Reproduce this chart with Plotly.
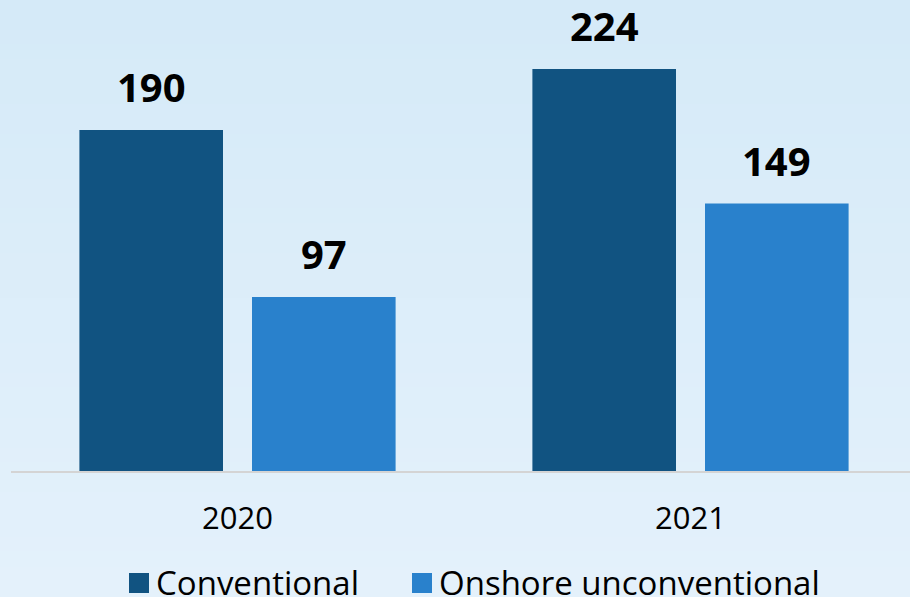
import plotly.graph_objects as go

# Data
years = ["2020", "2021"]
conventional = [190, 224]
onshore_unconventional = [97, 149]
series_names = ["Conventional", "Onshore unconventional"]
series_colors = ["#115381", "#2981cc"]

W, H = 910, 597
ML, MR, MT, MB = 11, 0, 0, 126
plot_w = W - ML - MR
plot_h = H - MT - MB
px_per_unit = 1.795


def px_x(px):
    return (px - ML) / plot_w


def px_y(py):
    return (H - MB - py) / plot_h


fig = go.Figure()

for name, vals, color in zip(series_names, [conventional, onshore_unconventional], series_colors):
    fig.add_trace(go.Bar(
        x=years, y=vals, name=name,
        marker=dict(color=color, line=dict(width=0)),
        showlegend=False,
    ))

# value labels above bars (bar centres sit +/-0.19 category units from the tick)
offsets = [-0.19, 0.19]
for vals, dx in zip([conventional, onshore_unconventional], offsets):
    for i, v in enumerate(vals):
        fig.add_annotation(
            x=i + dx, y=v, text=f"<b>{v}</b>", showarrow=False,
            yshift=43, yanchor="middle", xanchor="center", borderpad=0,
            font=dict(family="Open Sans", size=40, color="#000000"),
        )

# legend row along the bottom edge: swatch + label per series
legend_swatch_left = [129, 412]
for name, color, sx in zip(series_names, series_colors, legend_swatch_left):
    fig.add_shape(
        type="rect", xref="paper", yref="paper",
        x0=px_x(sx), x1=px_x(sx + 20), y0=px_y(593), y1=px_y(573),
        fillcolor=color, line=dict(width=0),
    )
    fig.add_annotation(
        xref="paper", yref="paper", x=px_x(sx + 26), y=px_y(582),
        text=name, showarrow=False, xanchor="left", yanchor="middle",
        borderpad=0, font=dict(family="Open Sans", size=33, color="#000000"),
    )

# soft vertical gradient background
top = (213, 234, 248)
bot = (228, 241, 251)
n = 40
for i in range(n):
    t = i / (n - 1)
    c = tuple(round(top[k] + (bot[k] - top[k]) * t) for k in range(3))
    fig.add_shape(
        type="rect", xref="paper", yref="paper",
        x0=-ML / plot_w - 0.01, x1=1.01,
        y0=1 - (i + 1) / n * (H / plot_h) - 0.001,
        y1=1 - i / n * (H / plot_h) + 0.001,
        fillcolor=f"rgb{c}", line=dict(width=0), layer="below",
    )

fig.update_layout(
    width=W, height=H,
    margin=dict(l=ML, r=MR, t=MT, b=MB, autoexpand=False),
    paper_bgcolor="#dcedf9", plot_bgcolor="rgba(0,0,0,0)",
    barmode="group", bargap=0.238, bargroupgap=0.168,
    font=dict(family="Open Sans", color="#000000"),
    showlegend=False,
)
fig.update_xaxes(
    type="category",
    range=[-0.5, -0.5 + plot_w / 453],
    showline=True, linecolor="#d4d4d4", linewidth=2,
    showgrid=False, ticks="", ticklabelstandoff=19,
    tickfont=dict(family="Open Sans", size=31, color="#000000"),
)
fig.update_yaxes(
    range=[0, plot_h / px_per_unit], visible=False, showgrid=False, zeroline=False,
)

fig.write_html("out.html")
